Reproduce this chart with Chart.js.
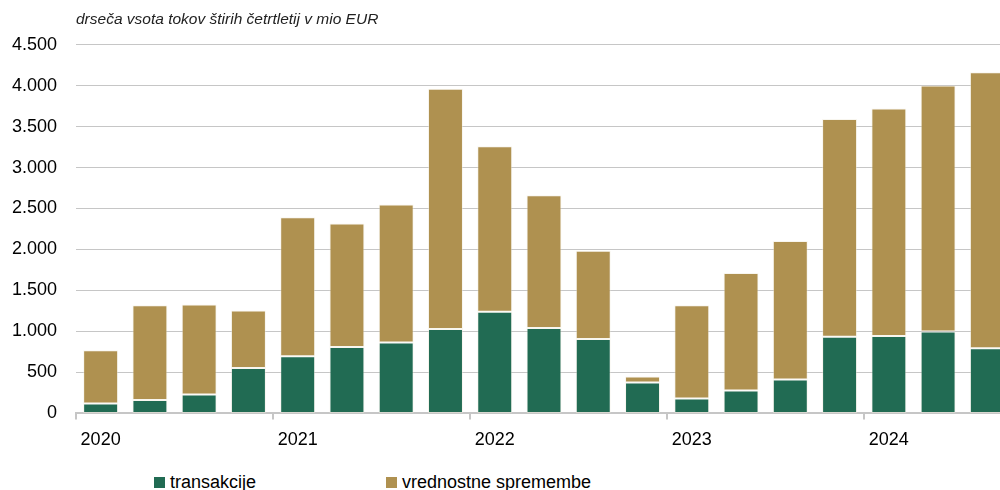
<!DOCTYPE html>
<html>
<head>
<meta charset="utf-8">
<script src="https://cdn.jsdelivr.net/npm/chart.js@4/dist/chart.umd.min.js"></script>
<style>
  html, body { margin: 0; padding: 0; background: #fff; }
  #wrap { position: relative; width: 1000px; height: 490px; overflow: hidden; }
  #chart { position: absolute; left: 0; top: 0; }
  #legend { position: absolute; left: 0; top: 472px; width: 1000px; height: 20px;
    font: 18px "Liberation Sans", Arial, sans-serif; color: #000; }
  .item { position: absolute; top: 0; white-space: nowrap; line-height: 20px; }
  .box { display: inline-block; width: 11px; height: 11px; margin-right: 5px; vertical-align: 0px; }
</style>
</head>
<body>
<div id="wrap">
  <canvas id="chart" width="1012" height="461"></canvas>
  <div id="legend"></div>
</div>
<script>
// quarters 2020 Q1 .. 2024 Q3, year shown on the first quarter
const quarters = ['2020','','','','2021','','','','2022','','','','2023','','','','2024','',''];
const transakcije = [120, 162, 231, 555, 698, 809, 866, 1030, 1240, 1042, 907, 378, 182, 280, 415, 936, 944, 998, 796];
const vrednostne = [652, 1159, 1099, 701, 1696, 1508, 1684, 2930, 2019, 1619, 1078, 71, 1139, 1434, 1689, 2655, 2777, 3002, 3368];
const yTicks = [0, 500, 1000, 1500, 2000, 2500, 3000, 3500, 4000, 4500];

const green = '#216b53';
const gold = '#af9150';
const gridCol = '#c6c6c6';
const font = '"Liberation Sans", Arial, sans-serif';

const seriesNames = ['transakcije', 'vrednostne spremembe'];

const chart = new Chart(document.getElementById('chart'), {
  type: 'bar',
  data: {
    labels: quarters,
    datasets: [
      { label: seriesNames[0], data: transakcije, backgroundColor: green },
      { label: seriesNames[1], data: vrednostne, backgroundColor: gold }
    ].map(d => Object.assign(d, {
      borderColor: 'rgba(240,235,220,0.45)',
      borderWidth: 1,
      borderSkipped: false,
      barPercentage: 0.71,
      categoryPercentage: 1
    }))
  },
  options: {
    responsive: false,
    animation: false,
    layout: { padding: { left: 0, right: 0, top: 0, bottom: 0 } },
    plugins: {
      legend: { display: false },
      tooltip: { enabled: false },
      title: {
        display: true,
        text: 'drseča vsota tokov štirih četrtletij v mio EUR',
        align: 'start',
        fullSize: false,
        color: '#222',
        font: { family: font, size: 15.5, style: 'italic', weight: 'normal' },
        padding: { top: 10, bottom: 16 }
      }
    },
    scales: {
      x: {
        stacked: true,
        offset: true,
        grid: {
          offset: true,
          drawOnChartArea: false,
          drawTicks: true,
          tickLength: 6,
          lineWidth: 2,
          color: ctx => (ctx.index % 4 === 0 ? gridCol : 'rgba(0,0,0,0)')
        },
        border: { display: true, color: gridCol, width: 2 },
        ticks: {
          autoSkip: false,
          maxRotation: 0,
          padding: 10,
          color: '#000',
          font: { family: font, size: 18 }
        }
      },
      y: {
        stacked: true,
        min: 0,
        max: 4500,
        afterBuildTicks: s => { s.ticks = yTicks.map(v => ({ value: v })); },
        afterFit: s => { s.width = 76; },
        grid: {
          drawTicks: false,
          lineWidth: 1,
          color: ctx => (ctx.tick && ctx.tick.value === 0 ? 'rgba(0,0,0,0)' : gridCol)
        },
        border: { display: false },
        ticks: {
          padding: 19,
          color: '#000',
          font: { family: font, size: 18 },
          callback: v => v.toLocaleString('de-DE')
        }
      }
    }
  }
});

// legend below the plot
const legendPos = [154, 386];
const legend = document.getElementById('legend');
chart.data.datasets.forEach((d, i) => {
  const el = document.createElement('div');
  el.className = 'item';
  el.style.left = legendPos[i] + 'px';
  el.innerHTML = '<span class="box" style="background:' + d.backgroundColor + '"></span>' + d.label;
  legend.appendChild(el);
});
</script>
</body>
</html>
